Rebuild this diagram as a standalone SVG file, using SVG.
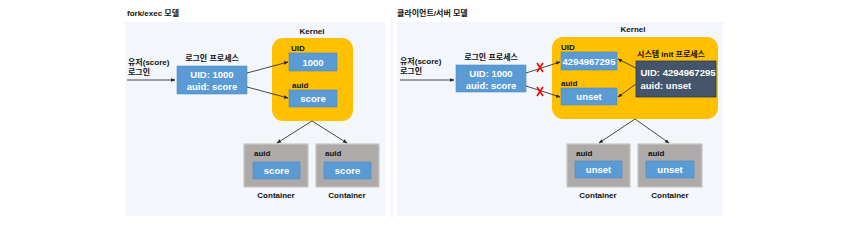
<svg xmlns="http://www.w3.org/2000/svg" width="844" height="225" viewBox="0 0 844 225">
<defs>
<marker id="ah" viewBox="0 0 10 10" refX="9" refY="5" markerWidth="5" markerHeight="5" orient="auto-start-reverse"><path d="M0,1 L10,5 L0,9 z" fill="#262626"/></marker>
<style>
text{font-family:"Liberation Sans","Noto Sans CJK KR",Arial,sans-serif;font-weight:bold}
.t{font-size:8px;fill:#111}
.w{font-size:9.5px;fill:#fff}
.bg{fill:#f3f7fc}
.blue{fill:#5b9bd5;stroke:#4f8cc4;stroke-width:0.6}
.ker{fill:#ffc000}
.cont{fill:#aeaaaa;stroke:#c9c6c6;stroke-width:1.2}
.dark{fill:#44546a;stroke:#2f3c4e;stroke-width:0.8}
.ln{stroke:#333;stroke-width:0.9;fill:none;marker-end:url(#ah)}
.x{stroke:#ff0000;stroke-width:1.6;fill:none}
.c{text-anchor:middle}
</style>
</defs>
<rect width="844" height="225" fill="#fff"/>
<g id="panels">
<rect class="bg" x="125" y="22" width="260" height="194"/>
<rect class="bg" x="397" y="22" width="326" height="194"/>
<line x1="392" y1="18" x2="392" y2="218" stroke="#b8c8dc" stroke-width="0.8" stroke-dasharray="1,1"/>
<text class="t" x="127" y="16">fork/exec 모델</text>
<text class="t" x="397" y="16">클라이언트/서버 모델</text>
</g>
<g id="left-user"><text class="t" x="128" y="65">유저(score)</text><text class="t" x="128" y="75">로그인</text></g>
<g id="left-login">
<text class="t c" x="212" y="61">로그인 프로세스</text>
<rect class="blue" x="177" y="66" width="70" height="28"/>
<text class="w c" x="212" y="78">UID: 1000</text>
<text class="w c" x="212" y="89.5">auid: score</text>
</g>
<g id="left-kernel">
<text class="t c" x="312" y="34">Kernel</text>
<rect class="ker" x="272" y="38" width="81" height="83" rx="11"/>
<text class="t" x="291" y="51">UID</text>
<rect class="blue" x="289" y="53" width="48" height="18"/>
<text class="w c" x="313" y="65.5">1000</text>
<text class="t" x="292" y="88">auid</text>
<rect class="blue" x="289" y="90" width="48" height="17"/>
<text class="w c" x="313" y="102">score</text>
</g>
<g id="left-c1">
<rect class="cont" x="244" y="144" width="64" height="43"/>
<text class="t" x="254" y="156">auid</text>
<rect class="blue" x="253" y="162" width="47" height="17" stroke="none"/>
<text class="w c" x="276.5" y="174">score</text>
<text class="t c" x="276" y="198">Container</text>
</g>
<g id="left-c2">
<rect class="cont" x="316" y="144" width="63" height="43"/>
<text class="t" x="325" y="156">auid</text>
<rect class="blue" x="324" y="162" width="47" height="17" stroke="none"/>
<text class="w c" x="347.5" y="174">score</text>
<text class="t c" x="347" y="198">Container</text>
</g>
<g id="right-user"><text class="t" x="400" y="64">유저(score)</text><text class="t" x="400" y="74">로그인</text></g>
<g id="right-login">
<text class="t c" x="491" y="60">로그인 프로세스</text>
<rect class="blue" x="456" y="65" width="70" height="27"/>
<text class="w c" x="491" y="77">UID: 1000</text>
<text class="w c" x="491" y="88.5">auid: score</text>
</g>
<g id="right-kernel">
<text class="t c" x="633" y="32">Kernel</text>
<rect class="ker" x="552" y="37" width="166" height="82" rx="11"/>
<text class="t" x="561" y="50">UID</text>
<rect class="blue" x="561" y="52" width="56" height="18"/>
<text class="w c" x="589" y="64.5" font-size="9">4294967295</text>
<text class="t" x="561" y="86">auid</text>
<rect class="blue" x="561" y="88" width="56" height="17"/>
<text class="w c" x="589" y="100">unset</text>
</g>
<g id="right-init">
<text class="t c" x="671" y="57">시스템 init 프로세스</text>
<rect class="dark" x="636" y="61" width="80" height="36"/>
<text class="w" x="640.5" y="76" font-size="9">UID: 4294967295</text>
<text class="w" x="640.5" y="88.5" font-size="9">auid: unset</text>
</g>
<g id="right-c1">
<rect class="cont" x="567" y="144" width="63" height="43"/>
<text class="t" x="576" y="156">auid</text>
<rect class="blue" x="575" y="161" width="47" height="17" stroke="none"/>
<text class="w c" x="598.5" y="173">unset</text>
<text class="t c" x="598" y="198">Container</text>
</g>
<g id="right-c2">
<rect class="cont" x="638" y="144" width="64" height="43"/>
<text class="t" x="648" y="156">auid</text>
<rect class="blue" x="646" y="161" width="48" height="17" stroke="none"/>
<text class="w c" x="670" y="173">unset</text>
<text class="t c" x="670" y="198">Container</text>
</g>
<g id="connectors">
<line class="ln" x1="127" y1="80" x2="175" y2="80"/>
<line class="ln" x1="247" y1="73" x2="288" y2="62"/>
<line class="ln" x1="247" y1="87" x2="288" y2="98"/>
<line class="ln" x1="312" y1="121" x2="277" y2="143"/>
<line class="ln" x1="312" y1="121" x2="347" y2="143"/>
<line class="ln" x1="400" y1="80" x2="454" y2="80"/>
<line class="ln" x1="526" y1="73" x2="560" y2="62"/>
<line class="ln" x1="526" y1="86" x2="560" y2="97"/>
<line class="ln" x1="636" y1="68" x2="618" y2="59"/>
<line class="ln" x1="636" y1="84" x2="618" y2="97"/>
<line class="ln" x1="635" y1="119" x2="599" y2="143"/>
<line class="ln" x1="635" y1="119" x2="669" y2="143"/>
<path class="x" d="M537,63 L543,72 M543,63 L537,72"/>
<path class="x" d="M537,87 L543,96 M543,87 L537,96"/>
</g>
</svg>
